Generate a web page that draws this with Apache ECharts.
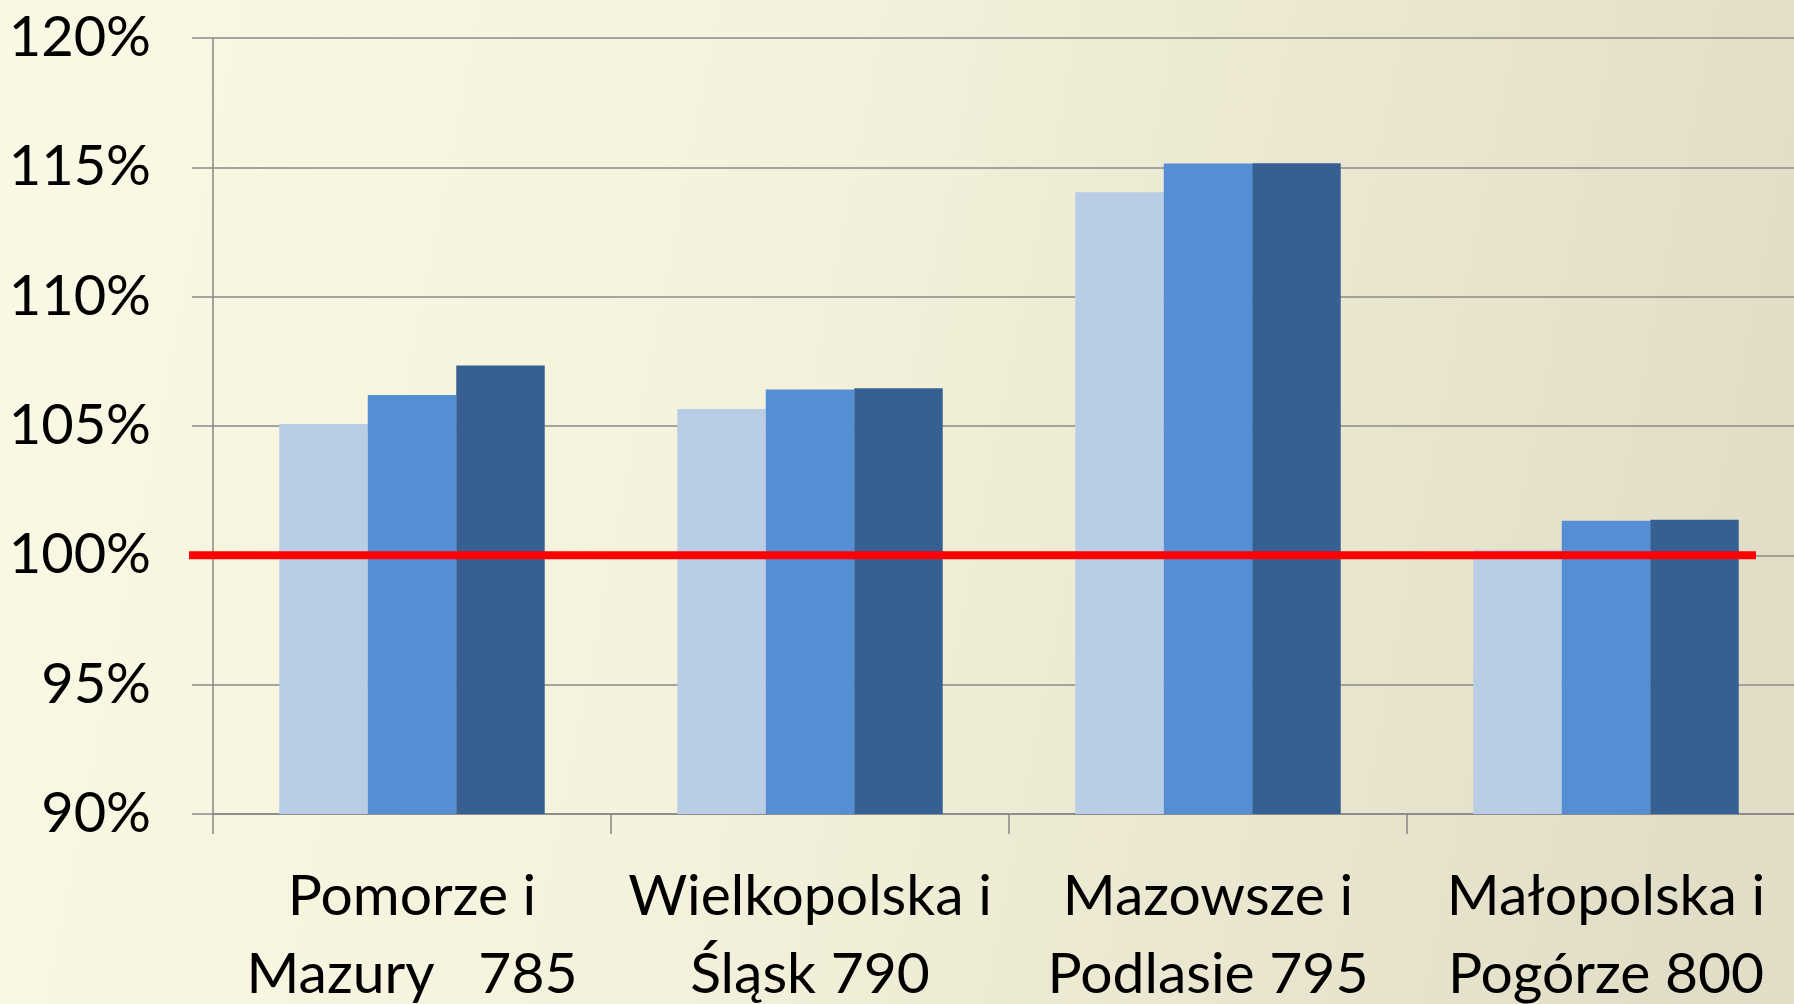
<!DOCTYPE html>
<html>
<head>
<meta charset="utf-8">
<script src="https://cdn.jsdelivr.net/npm/echarts@6/dist/echarts.min.js"></script>
<style>
html,body{margin:0;padding:0;width:1794px;height:1004px;overflow:hidden;}
#chart{width:1794px;height:1004px;}
</style>
</head>
<body>
<div id="chart"></div>
<script>
const categories = ["Pomorze i\nMazury   785", "Wielkopolska i\nŚląsk 790", "Mazowsze i\nPodlasie 795", "Małopolska i\nPogórze 800"];
const seriesLight = [105.08, 105.66, 114.04, 100.22];
const seriesMedium = [106.20, 106.41, 115.15, 101.34];
const seriesDark = [107.34, 106.46, 115.16, 101.38];
const refLineValue = 100;
const refLineX = [0, 1];
const yTicks = { min: 90, max: 120, interval: 5 };

const chart = echarts.init(document.getElementById('chart'), null, { renderer: 'canvas' });
const font = 'Lato, "Open Sans", sans-serif';
const gridColor = '#8a8a8a';

chart.setOption({
  animation: false,
  backgroundColor: new echarts.graphic.LinearGradient(0, 0, 1, 0.35, [
    { offset: 0, color: '#FAF9E5' },
    { offset: 0.45, color: '#F4F2DC' },
    { offset: 1, color: '#E2DDC6' }
  ]),
  grid: [
    { left: 213, right: -11, top: 38, bottom: 190, containLabel: false, outerBoundsMode: 'none' },
    { left: 189, right: 38, top: 38, bottom: 190, containLabel: false, outerBoundsMode: 'none' }
  ],
  xAxis: [
    {
      type: 'category',
      gridIndex: 0,
      data: categories,
      axisLine: { show: true, lineStyle: { color: '#868686', width: 1.5 } },
      axisTick: { show: true, length: 20, alignWithLabel: false, lineStyle: { color: '#868686', width: 1.5 } },
      axisLabel: { interval: 0, margin: 44, fontSize: 57, lineHeight: 78, color: '#000', fontFamily: font },
      splitLine: { show: false }
    },
    { type: 'value', gridIndex: 1, min: 0, max: 1, show: false }
  ],
  yAxis: [
    {
      type: 'value',
      gridIndex: 0,
      min: yTicks.min, max: yTicks.max, interval: yTicks.interval,
      axisLine: { show: true, lineStyle: { color: '#868686', width: 1.5 } },
      axisTick: { show: true, length: 21, lineStyle: { color: gridColor, width: 1.5 } },
      axisLabel: { formatter: '{value}%', margin: 62, fontSize: 56, color: '#000', fontFamily: font },
      splitLine: { show: true, lineStyle: { color: gridColor, width: 1.5 } }
    },
    { type: 'value', gridIndex: 1, min: yTicks.min, max: yTicks.max, show: false }
  ],
  series: [
    { type: 'bar', data: seriesLight, barGap: '0%', barCategoryGap: '33.3%', itemStyle: { color: '#B9CDE5' } },
    { type: 'bar', data: seriesMedium, barGap: '0%', barCategoryGap: '33.3%', itemStyle: { color: '#558ED5' } },
    { type: 'bar', data: seriesDark, barGap: '0%', barCategoryGap: '33.3%', itemStyle: { color: '#376092' } },
    {
      type: 'line', xAxisIndex: 1, yAxisIndex: 1, clip: false, symbol: 'none', z: 10,
      data: [[refLineX[0], refLineValue], [refLineX[1], refLineValue]],
      lineStyle: { color: '#FF0000', width: 8 }
    }
  ]
});
</script>
</body>
</html>
